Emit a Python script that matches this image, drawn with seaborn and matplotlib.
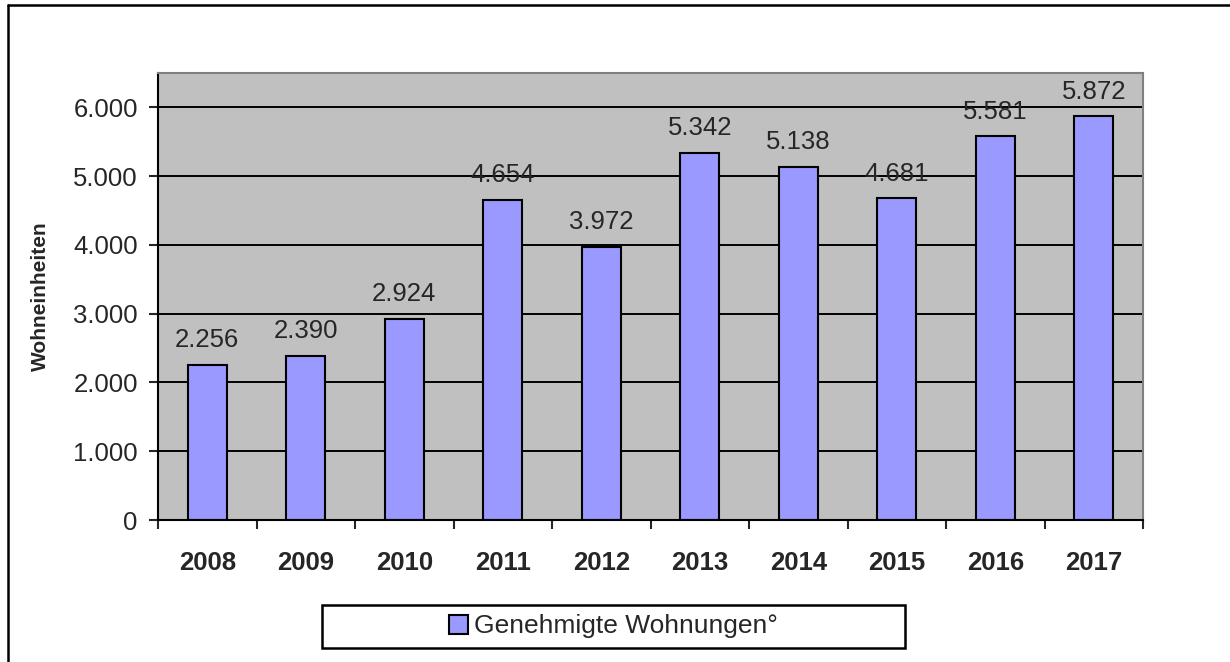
import matplotlib
matplotlib.use("Agg")
import matplotlib.pyplot as plt
import numpy as np
import pandas as pd
import seaborn as sns
from matplotlib.lines import Line2D
from matplotlib.patches import Rectangle
from matplotlib.ticker import FuncFormatter

years = ["2008", "2009", "2010", "2011", "2012", "2013", "2014", "2015", "2016", "2017"]
wohnungen = [2256, 2390, 2924, 4654, 3972, 5342, 5138, 4681, 5581, 5872]
series_name = "Genehmigte Wohnungen°"
y_label = "Wohneinheiten"
y_ticks = [0, 1000, 2000, 3000, 4000, 5000, 6000]


def de_format(v, pos=None):
    # German thousands separator
    return f"{int(v):,}".replace(",", ".")


sns.set_style("white")
plt.rcParams["font.family"] = ["Liberation Sans", "DejaVu Sans"]

W, H = 1230, 662
fig = plt.figure(figsize=(W / 100, H / 100), dpi=100)
ax = fig.add_axes([158 / W, (H - 520) / H, (1143 - 158) / W, (520 - 73) / H])

df = pd.DataFrame({"Jahr": years, "Wohnungen": wohnungen})
sns.barplot(
    data=df, x="Jahr", y="Wohnungen", ax=ax, color="#9999FF", saturation=1,
    width=0.4, edgecolor="black", linewidth=1.5, label=series_name,
)

ax.set_facecolor("#C0C0C0")
ax.set_ylim(0, 6500)
ax.set_xlim(-0.5, len(years) - 0.5)
ax.set_yticks(y_ticks)
ax.yaxis.set_major_formatter(FuncFormatter(de_format))
ax.set_axisbelow(True)
ax.yaxis.grid(True, color="black", linewidth=1.4)
ax.xaxis.grid(False)

for side in ["top", "right"]:
    ax.spines[side].set_color("#808080")
    ax.spines[side].set_linewidth(1.5)
for side in ["left", "bottom"]:
    ax.spines[side].set_color("black")
    ax.spines[side].set_linewidth(1.5)

ax.tick_params(axis="y", left=True, length=6.5, width=1.5, direction="out", pad=8, labelsize=18.5)
ax.set_xticks(np.arange(len(years)))
ax.set_xticks(np.arange(len(years) + 1) - 0.5, minor=True)
ax.set_xticklabels(years, fontweight="bold", fontsize=18.5)
ax.tick_params(axis="x", which="major", length=0, pad=22)
ax.tick_params(axis="x", which="minor", bottom=True, length=6.5, width=1.5, direction="out")

ax.set_xlabel("")
ax.set_ylabel(y_label, fontsize=15, fontweight="bold")
ax.yaxis.set_label_coords(-0.11, 0.5)

for i, v in enumerate(wohnungen):
    ax.annotate(de_format(v), (i, v), xytext=(0, 9), textcoords="offset points",
                ha="center", va="bottom", fontsize=18.5)

# legend with its own box
leg = ax.legend(loc="center", bbox_to_anchor=(613.5 / W, (H - 626.5) / H),
                bbox_transform=fig.transFigure, frameon=False, fontsize=19,
                handlelength=0.7, handleheight=0.7, handletextpad=0.25)
fig.add_artist(Rectangle((322 / W, (H - 648) / H), (905 - 322) / W, 43 / H,
                         transform=fig.transFigure, fill=False,
                         edgecolor="black", linewidth=1.8))

# outer chart border (only top and left visible)
fig.add_artist(Line2D([8 / W, 8 / W], [0, 1 - 5 / H], transform=fig.transFigure,
                      color="black", linewidth=1.8))
fig.add_artist(Line2D([8 / W, 1], [1 - 5 / H, 1 - 5 / H], transform=fig.transFigure,
                      color="black", linewidth=1.8))

fig.savefig("out.png", dpi=100)
